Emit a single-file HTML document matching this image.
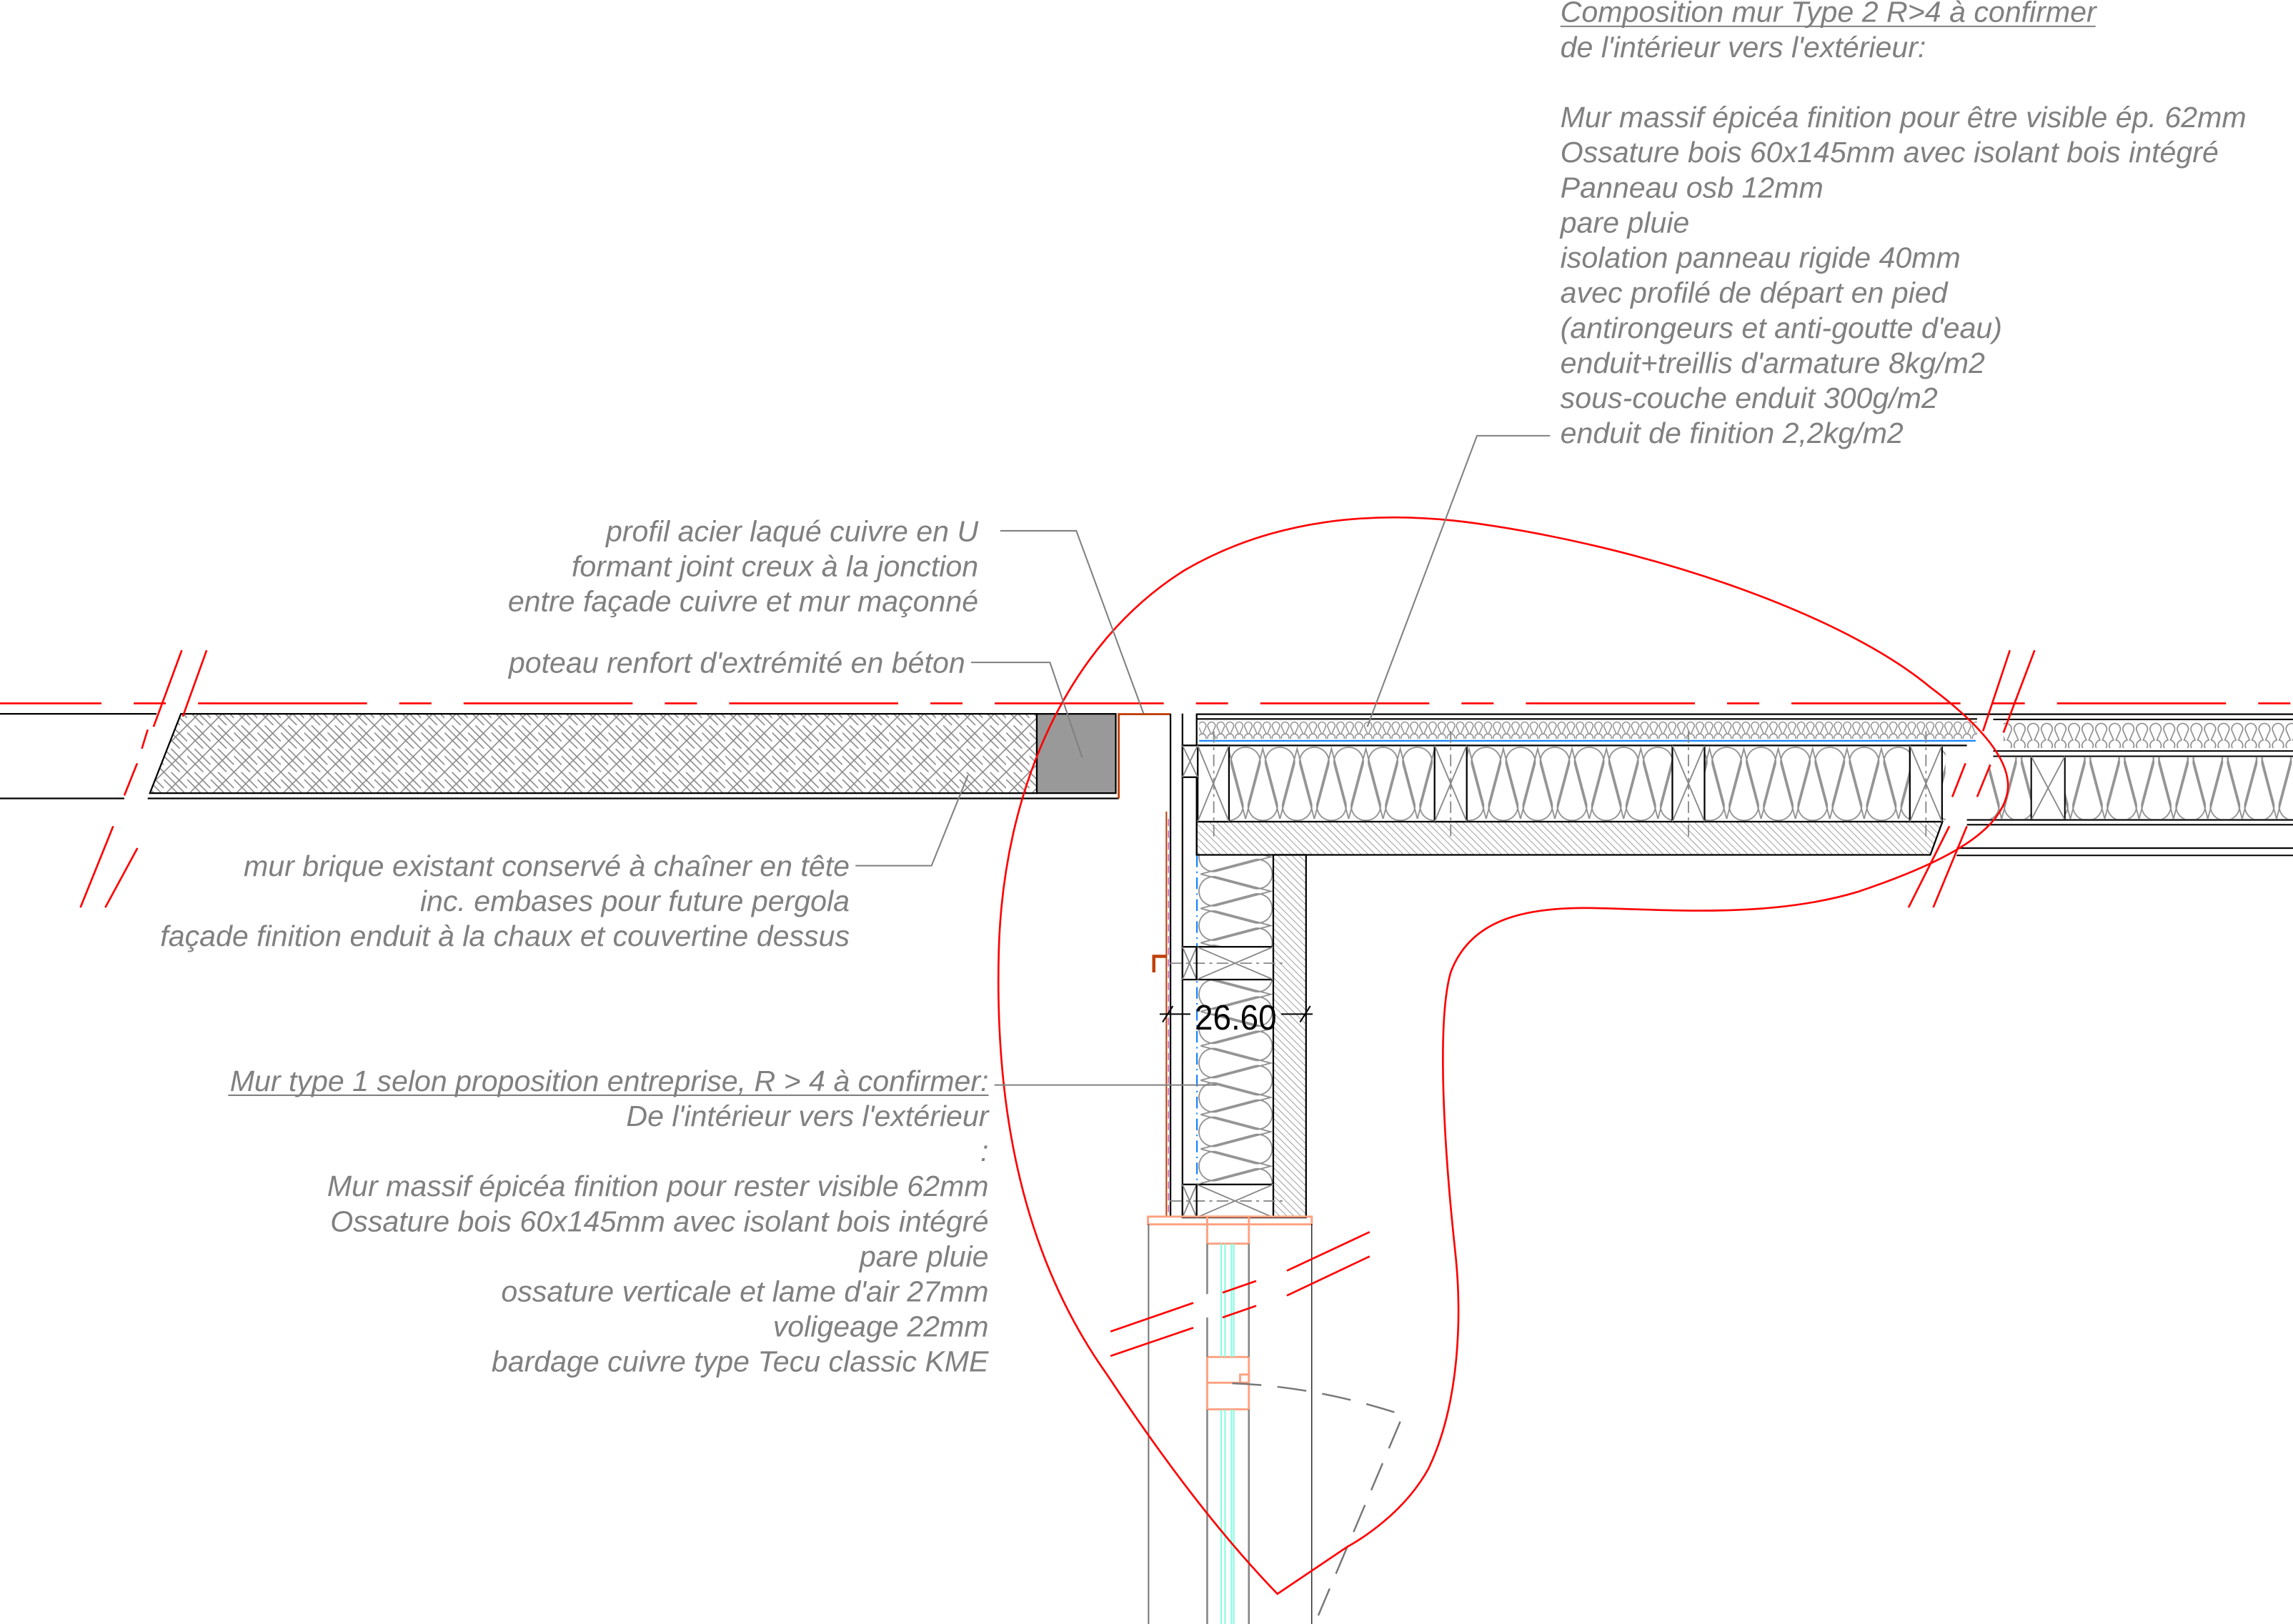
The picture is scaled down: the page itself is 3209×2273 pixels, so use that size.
<!DOCTYPE html>
<html><head><meta charset="utf-8"><style>
html,body{margin:0;padding:0;background:#fff;}
svg{display:block;}
text{font-family:"Liberation Sans",sans-serif;font-style:italic;fill:#808080;font-size:20.1px;}
</style></head><body>
<svg width="3209" height="2273" viewBox="0 0 1568 1110.6" preserveAspectRatio="none" xmlns="http://www.w3.org/2000/svg">
<defs>
<pattern id="brick" width="16" height="16" patternUnits="userSpaceOnUse">
<path d="M0,0 L16,16 M-8,8 L8,24 M8,-8 L24,8 M0,16 L16,0 M-8,8 L8,-8 M8,24 L24,8 M0,5 L11,16 M5,0 L16,11" stroke="#8a8a8a" stroke-width="0.8" fill="none"/>
</pattern>
<pattern id="hatch" width="3.4" height="3.4" patternUnits="userSpaceOnUse" patternTransform="rotate(-45)">
<line x1="0" y1="0" x2="0" y2="3.4" stroke="#777" stroke-width="0.7"/>
</pattern>
<pattern id="fine" width="6.3" height="12.4" patternUnits="userSpaceOnUse" y="492.9">
<path d="M0.6,4 A2.6,2.6 0 1 1 5.7,4 L3.5,9 A2.6,2.6 0 1 1 2.8,9 Z" stroke="#8a8a8a" stroke-width="0.7" fill="none"/>
</pattern>
<pattern id="fine2" width="9.3" height="18" patternUnits="userSpaceOnUse" y="493.6">
<path d="M1,6 A3.8,3.8 0 1 1 8.3,6 L5.5,12.5 A3.8,3.8 0 1 1 3.8,12.5 Z" stroke="#8a8a8a" stroke-width="0.8" fill="none"/>
</pattern>
<pattern id="ins" width="23.5" height="52" patternUnits="userSpaceOnUse" y="510" x="840">
<g stroke="#8f8f8f" stroke-width="0.9" fill="none">
<path d="M2.2,14 A10,10 0 1 1 21.3,14 L11.75,50"/>
<path d="M2.2,14 L11.75,50"/>
<path d="M14,38 A10,10 0 1 0 33,38 L23.5,2 L14,38"/>
<path d="M-9.5,38 A10,10 0 1 0 9.5,38 L0,2 L-9.5,38"/>
</g>
</pattern>
<pattern id="insv" width="23.5" height="52" patternUnits="userSpaceOnUse" patternTransform="translate(871,586) rotate(90)">
<g stroke="#8f8f8f" stroke-width="0.9" fill="none">
<path d="M2.2,14 A10,10 0 1 1 21.3,14 L11.75,50"/>
<path d="M2.2,14 L11.75,50"/>
<path d="M14,38 A10,10 0 1 0 33,38 L23.5,2 L14,38"/>
<path d="M-9.5,38 A10,10 0 1 0 9.5,38 L0,2 L-9.5,38"/>
</g>
</pattern>
</defs>

<line x1="0" y1="481" x2="1568" y2="481" stroke="#f00" stroke-width="1.3" stroke-dasharray="115.6 22 22 22" stroke-dashoffset="46.2"/>

<line x1="0" y1="488.2" x2="107" y2="488.2" stroke="#000" stroke-width="1.1"/>
<line x1="0" y1="546" x2="85" y2="546" stroke="#000" stroke-width="1.1"/>
<polygon points="123.7,488.2 709,488.2 709,542.4 102.5,542.4" fill="url(#brick)" stroke="#000" stroke-width="1.1"/>
<line x1="101" y1="546" x2="765" y2="546" stroke="#000" stroke-width="1.1"/>
<rect x="709" y="488.2" width="54" height="54.2" fill="#999" stroke="#000" stroke-width="1.1"/>
<path d="M800,488.4 L765,488.4 L765,546" stroke="#c0400a" stroke-width="1.4" fill="none"/>
<g stroke="#f00" stroke-width="1.3">
<line x1="124.3" y1="444.7" x2="105" y2="497"/><line x1="93.8" y1="522" x2="85" y2="544"/><line x1="77.4" y1="565" x2="55" y2="620.6"/>
<line x1="141.3" y1="444.7" x2="125" y2="490"/><line x1="94" y1="580" x2="72" y2="620.6"/><line x1="101" y1="499" x2="97" y2="512"/>
</g>

<g stroke="#000" stroke-width="1.1">
<line x1="800.4" y1="488" x2="800.4" y2="832.5"/>
<line x1="808.6" y1="488" x2="808.6" y2="832.5"/>
<line x1="818.3" y1="488" x2="818.3" y2="585"/>
</g>
<line x1="797.6" y1="555" x2="797.6" y2="832" stroke="#c0400a" stroke-width="1"/>
<line x1="799" y1="560" x2="799" y2="832" stroke="#d060c0" stroke-width="0.8" stroke-dasharray="5 3"/>
<rect x="819" y="585" width="51.7" height="247.7" fill="url(#insv)"/>
<rect x="870.7" y="584.6" width="22.4" height="248" fill="url(#hatch)" stroke="#000" stroke-width="1.1"/>
<line x1="818.5" y1="585" x2="818.5" y2="832" stroke="#0a7cff" stroke-width="1" stroke-dasharray="8 3 1 3"/>
<g stroke="#000" stroke-width="1.1" fill="#fff">
<rect x="808.6" y="647.5" width="62.1" height="22.4"/>
<rect x="808.6" y="810" width="62.1" height="22.6"/>
</g>
<g stroke="#888" stroke-width="0.9" fill="none">
<path d="M808.6,647.5 L818.3,669.9 M818.3,647.5 L808.6,669.9 M818.3,647.5 L870.7,669.9 M818.3,669.9 L870.7,647.5"/>
<path d="M808.6,810 L818.3,832.6 M818.3,810 L808.6,832.6 M818.3,810 L870.7,832.6 M818.3,832.6 L870.7,810"/>
<line x1="800" y1="658.7" x2="878" y2="658.7" stroke-dasharray="8 3 2 3"/>
<line x1="800" y1="821.3" x2="878" y2="821.3" stroke-dasharray="8 3 2 3"/>
</g>
<line x1="818.3" y1="647.5" x2="818.3" y2="669.9" stroke="#000" stroke-width="1.1"/>
<line x1="818.3" y1="810" x2="818.3" y2="832.6" stroke="#000" stroke-width="1.1"/>
<path d="M797.8,654 L789,654 L789,665" stroke="#c0400a" stroke-width="2.2" fill="none"/>

<line x1="818" y1="488.4" x2="1568" y2="488.4" stroke="#000" stroke-width="1.1"/>
<line x1="818" y1="491.7" x2="1352" y2="491.7" stroke="#000" stroke-width="1"/>
<rect x="820" y="492.9" width="532" height="12.4" fill="url(#fine)"/>
<line x1="820" y1="506.6" x2="1351" y2="506.6" stroke="#0a7cff" stroke-width="1"/>
<line x1="808.6" y1="509.8" x2="1345" y2="509.8" stroke="#000" stroke-width="1.1"/>
<rect x="840.4" y="510" width="490" height="52" fill="url(#ins)"/>
<polygon points="818.3,561.9 1328.3,561.9 1320,584.6 818.3,584.6" fill="url(#hatch)" stroke="#000" stroke-width="1.1"/>
<g stroke="#000" stroke-width="1.1" fill="#fff">
<rect x="819" y="509.8" width="21.4" height="52.1"/>
<rect x="981" y="509.8" width="22" height="52.1"/>
<rect x="1143.6" y="509.8" width="22" height="52.1"/>
<rect x="1306" y="509.8" width="22" height="52.1"/>
<rect x="808.6" y="509.8" width="10.4" height="21.7"/>
</g>
<g stroke="#888" stroke-width="0.9" fill="none">
<path d="M819,509.8 L840.4,561.9 M840.4,509.8 L819,561.9"/>
<path d="M981,509.8 L1003,561.9 M1003,509.8 L981,561.9"/>
<path d="M1143.6,509.8 L1165.6,561.9 M1165.6,509.8 L1143.6,561.9"/>
<path d="M1306,509.8 L1328,561.9 M1328,509.8 L1306,561.9"/>
<path d="M808.6,509.8 L819,531.5 M819,509.8 L808.6,531.5"/>
<g stroke-dasharray="8 3 2 3"><line x1="830" y1="500" x2="830" y2="575"/><line x1="992" y1="500" x2="992" y2="575"/><line x1="1154.6" y1="500" x2="1154.6" y2="575"/><line x1="1317" y1="500" x2="1317" y2="575"/></g>
</g>
<line x1="1363" y1="492" x2="1568" y2="492" stroke="#000" stroke-width="1"/>
<rect x="1370" y="493.6" width="198" height="18" fill="url(#fine2)"/>
<line x1="1363" y1="513.6" x2="1568" y2="513.6" stroke="#000" stroke-width="1"/>
<line x1="1363" y1="517.2" x2="1568" y2="517.2" stroke="#000" stroke-width="1"/>
<rect x="1360" y="518" width="208" height="42" fill="url(#ins)"/>
<rect x="1389" y="517.2" width="23" height="43.5" fill="#fff" stroke="#000" stroke-width="1"/>
<path d="M1389,517.2 L1412,560.7 M1412,517.2 L1389,560.7" stroke="#888" stroke-width="0.9"/>
<line x1="1345" y1="560.7" x2="1568" y2="560.7" stroke="#000" stroke-width="1"/>
<line x1="1345" y1="564" x2="1568" y2="564" stroke="#000" stroke-width="1"/>
<line x1="1338" y1="580" x2="1568" y2="580" stroke="#000" stroke-width="1"/>
<line x1="1338" y1="585" x2="1568" y2="585" stroke="#000" stroke-width="1"/>
<g stroke="#f00" stroke-width="1.3">
<line x1="1374.4" y1="444.7" x2="1356" y2="500"/><line x1="1344" y1="522" x2="1335" y2="545"/><line x1="1333" y1="565" x2="1305.1" y2="620.6"/>
<line x1="1391.3" y1="444.7" x2="1370" y2="501"/><line x1="1361" y1="523" x2="1352" y2="545"/><line x1="1345" y1="565" x2="1322" y2="620.6"/>
</g>

<g stroke="#ffa080" stroke-width="1.4" fill="none">
<rect x="785" y="832" width="112" height="5.3"/>
<rect x="825.5" y="832" width="28.5" height="18.5"/>
<rect x="825.5" y="928" width="28.5" height="35.8"/>
<line x1="825.5" y1="945.6" x2="854" y2="945.6"/>
<rect x="848" y="940" width="6" height="5.6"/>
</g>
<line x1="785.4" y1="837" x2="785.4" y2="1110.6" stroke="#777" stroke-width="1"/>
<line x1="897" y1="837" x2="897" y2="1110.6" stroke="#000" stroke-width="0.6"/>
<g stroke="#888" stroke-width="1.3">
<line x1="825.5" y1="850.5" x2="825.5" y2="885"/><line x1="825.5" y1="901" x2="825.5" y2="928"/><line x1="825.5" y1="964" x2="825.5" y2="1110.6"/>
<line x1="854" y1="850.5" x2="854" y2="928"/><line x1="854" y1="964" x2="854" y2="1110.6"/>
</g>
<g stroke="#80ffe0" stroke-width="1">
<line x1="835.1" y1="850.5" x2="835.1" y2="928"/><line x1="837.7" y1="850.5" x2="837.7" y2="928"/><line x1="842.1" y1="850.5" x2="842.1" y2="928"/><line x1="843.7" y1="850.5" x2="843.7" y2="928"/>
<line x1="835.1" y1="964" x2="835.1" y2="1110.6"/><line x1="837.7" y1="964" x2="837.7" y2="1110.6"/><line x1="842.1" y1="964" x2="842.1" y2="1110.6"/><line x1="843.7" y1="964" x2="843.7" y2="1110.6"/>
</g>
<path d="M842.6,946 Q900,948 959.4,967.7 L899,1110.6" stroke="#777" stroke-width="1.2" fill="none" stroke-dasharray="20 11"/>
<g stroke="#f00" stroke-width="1.3">
<line x1="759.4" y1="910.6" x2="816" y2="891"/><line x1="836" y1="884" x2="859" y2="876"/><line x1="880" y1="869" x2="936.6" y2="842.5"/>
<line x1="759.4" y1="927.3" x2="816" y2="908"/><line x1="836" y1="901" x2="859" y2="893"/><line x1="880" y1="886" x2="936.6" y2="859.2"/>
</g>

<path d="M873.5,1090 C830,1045 790,990 757,940 C700,860 680,760 683,650 C686,540 730,440 810,390 C870,355 940,348 1010,358 C1130,375 1260,420 1320,470 C1360,500 1378,525 1372,545 C1365,570 1330,590 1270,610 C1210,628 1140,622 1090,621 C1040,620 1005,630 992,665 C982,700 988,790 995,855 C1000,900 998,960 977,1004 C960,1035 930,1053 921,1058 Z" stroke="#f00" stroke-width="1.3" fill="none"/>

<g stroke="#000" stroke-width="1">
<line x1="793" y1="693.5" x2="814" y2="693.5"/><line x1="876" y1="693.5" x2="897.6" y2="693.5"/>
<line x1="795" y1="699" x2="802" y2="688"/><line x1="889" y1="699" x2="896" y2="688"/>
</g>
<text x="817" y="704" style="font-style:normal;fill:#000;font-size:24px" textLength="56" lengthAdjust="spacingAndGlyphs">26.60</text>

<g stroke="#808080" stroke-width="1" fill="none">
<polyline points="1060,298 1010,298 935,497"/>
<polyline points="684,363 736,363 782,488"/>
<polyline points="664,453 718,453 740,518"/>
<polyline points="585,592 637,592 662,530"/>
<polyline points="680,742 832,742"/>
</g>

<text x="1067" y="15">Composition mur Type 2 R&gt;4 à confirmer</text>
<line x1="1067" y1="18" x2="1433" y2="18" stroke="#808080" stroke-width="1"/>
<text x="1067" y="39">de l'intérieur vers l'extérieur:</text>
<text x="1067" y="87">Mur massif épicéa finition pour être visible ép. 62mm</text>
<text x="1067" y="111">Ossature bois 60x145mm avec isolant bois intégré</text>
<text x="1067" y="135">Panneau osb 12mm</text>
<text x="1067" y="159">pare pluie</text>
<text x="1067" y="183">isolation panneau rigide 40mm</text>
<text x="1067" y="207">avec profilé de départ en pied</text>
<text x="1067" y="231">(antirongeurs et anti-goutte d'eau)</text>
<text x="1067" y="255">enduit+treillis d'armature 8kg/m2</text>
<text x="1067" y="279">sous-couche enduit 300g/m2</text>
<text x="1067" y="303">enduit de finition 2,2kg/m2</text>

<g text-anchor="end">
<text x="669" y="370">profil acier laqué cuivre en U</text>
<text x="669" y="394">formant joint creux à la jonction</text>
<text x="669" y="418">entre façade cuivre et mur maçonné</text>
<text x="660" y="460">poteau renfort d'extrémité en béton</text>
<text x="581" y="599">mur brique existant conservé à chaîner en tête</text>
<text x="581" y="623">inc. embases pour future pergola</text>
<text x="581" y="647">façade finition enduit à la chaux et couvertine dessus</text>
<text x="676" y="746">Mur type 1 selon proposition entreprise, R &gt; 4 à confirmer:</text>
<text x="676" y="770">De l'intérieur vers l'extérieur</text>
<text x="676" y="794">:</text>
<text x="676" y="818">Mur massif épicéa finition pour rester visible 62mm</text>
<text x="676" y="842">Ossature bois 60x145mm avec isolant bois intégré</text>
<text x="676" y="866">pare pluie</text>
<text x="676" y="890">ossature verticale et lame d'air 27mm</text>
<text x="676" y="914">voligeage 22mm</text>
<text x="676" y="938">bardage cuivre type Tecu classic KME</text>
</g>
<line x1="156" y1="749" x2="676" y2="749" stroke="#808080" stroke-width="1"/>
</svg>
</body></html>
